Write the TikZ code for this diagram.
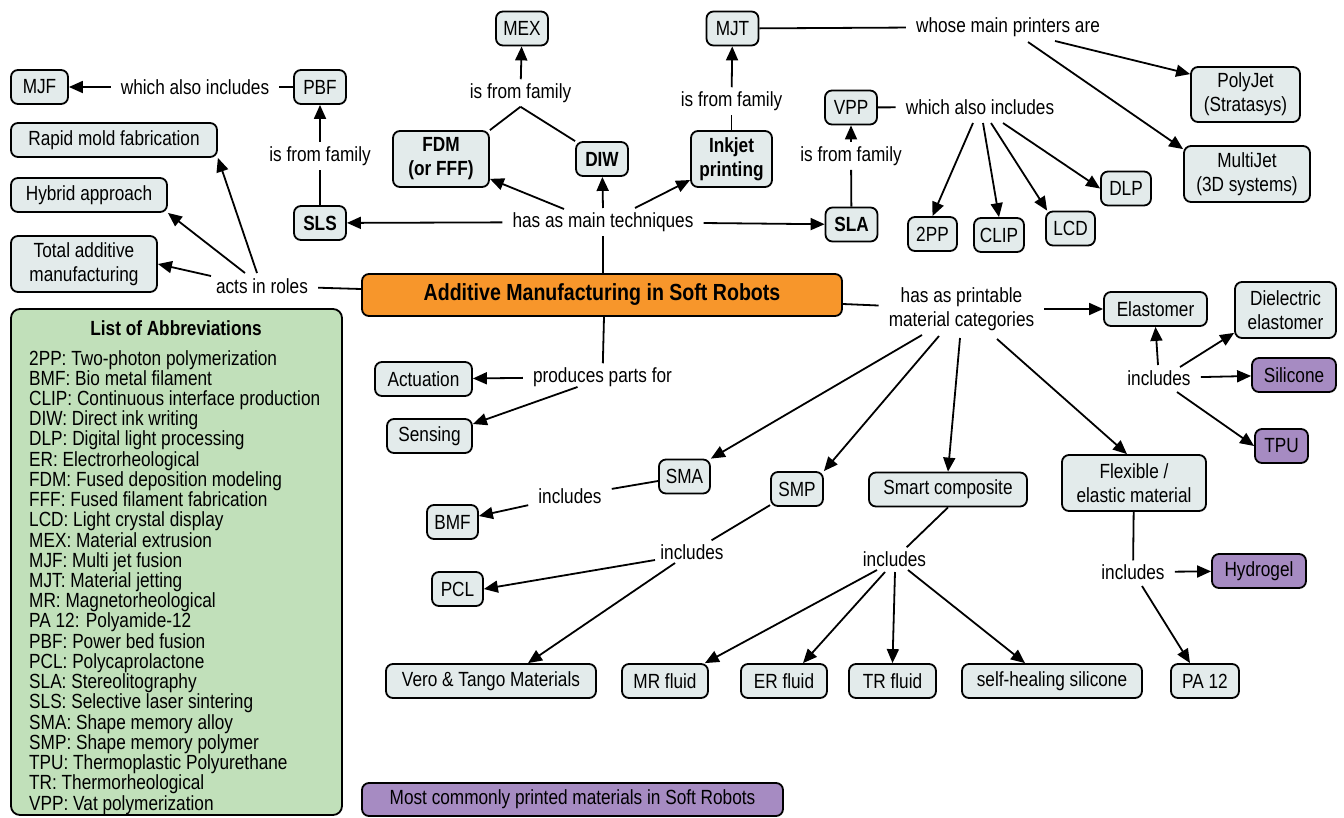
\documentclass[tikz,border=0pt]{standalone}
\usepackage{fontspec}
\setmainfont{Liberation Sans}[FakeStretch=0.84]
\usetikzlibrary{arrows.meta,calc}
\definecolor{boxfill}{HTML}{E3EBEB}
\definecolor{purp}{HTML}{A68BC2}
\definecolor{orng}{HTML}{F7962B}
\definecolor{grn}{HTML}{C1E0BA}
\begin{document}
\begin{tikzpicture}[x=1pt,y=-1pt,
  base/.style={font=\fontsize{20.5}{24}\selectfont},
  box/.style={base, draw, line width=1.8pt, fill=boxfill, rounded corners=7pt, inner sep=0pt, align=center},
  bbox/.style={box, font=\fontsize{20.5}{24}\selectfont\bfseries},
  pbox/.style={box, fill=purp},
  lab/.style={base, inner xsep=10pt, inner ysep=4pt, align=center},
  sz/.style 2 args={minimum width=#1pt, minimum height=#2pt},
  con/.style={line width=1.8pt},
  arr/.style={con, -{Triangle[length=14pt,width=12pt]}},
]
\useasboundingbox (0,0) rectangle (1344,817);

% list of abbreviations
\node[draw, line width=1.8pt, fill=grn, rounded corners=9pt, sz={331}{506}, inner sep=0pt] (listbox) at (176.5,562) {};
\node[base, font=\fontsize{20.5}{24}\selectfont\bfseries] (listtitle) at (176,328) {List of Abbreviations};
\foreach \t [count=\i] in {2PP: Two-photon polymerization, BMF: Bio metal filament, CLIP: Continuous interface production, DIW: Direct ink writing, DLP: Digital light processing, ER: Electrorheological, FDM: Fused deposition modeling, FFF: Fused filament fabrication, LCD: Light crystal display, MEX: Material extrusion, MJF: Multi jet fusion, MJT: Material jetting, MR: Magnetorheological, PA 12: Polyamide-12, PBF: Power bed fusion, PCL: Polycaprolactone, SLA: Stereolitography, SLS: Selective laser sintering, SMA: Shape memory alloy, SMP: Shape memory polymer, TPU: Thermoplastic Polyurethane, TR: Thermorheological, VPP: Vat polymerization}
  \node[base, anchor=base west, inner sep=0pt] (ab\i) at (29,{365+(\i-1)*20.23}) {\t};

\node[pbox, sz={421}{33}] (legend) at (572.5,799.5) {Most commonly printed materials in Soft Robots};

% nodes
\node[box, fill=orng, sz={480}{42}, font=\fontsize{23.3}{28}\selectfont\bfseries] (main) at (602,295) {Additive Manufacturing in Soft Robots};

\node[box, sz={57}{34}] (mjf) at (39.5,87) {MJF};
\node[box, sz={52}{34}] (pbf) at (320,87) {PBF};
\node[lab] (also1) at (195,87) {which also includes};
\node[box, sz={206}{34}] (rapid) at (114,140) {Rapid mold fabrication};
\node[box, sz={156}{34}] (hybrid) at (89,195) {Hybrid approach};
\node[box, sz={146}{56}] (total) at (84,264) {Total additive\\manufacturing};
\node[bbox, sz={52}{34}] (sls) at (320,223) {SLS};
\node[lab] (fam1) at (320,156) {is from family};
\node[lab] (roles) at (262,286) {acts in roles};
\node[bbox, sz={96}{56}] (fdm) at (441,159) {FDM\\(or FFF)};
\node[bbox, sz={52}{34}] (diw) at (602,159) {DIW};
\node[box, sz={52}{34}] (mex) at (522,28.5) {MEX};
\node[lab] (fam2) at (520.5,93) {is from family};
\node[bbox, sz={81}{56}] (inkjet) at (731.5,159) {Inkjet\\printing};
\node[box, sz={52}{34}] (mjt) at (732.5,28.5) {MJT};
\node[lab] (fam3) at (731.5,101) {is from family};
\node[lab] (printers) at (1008,27) {whose main printers are};
\node[box, sz={109}{55}] (polyjet) at (1245.5,94.5) {PolyJet\\(Stratasys)};
\node[box, sz={126}{56}] (multijet) at (1247,174) {MultiJet\\(3D systems)};
\node[lab] (tech) at (603,222) {has as main techniques};
\node[bbox, sz={52}{34}] (sla) at (851.5,224.5) {SLA};
\node[lab] (fam4) at (851,156) {is from family};
\node[box, sz={52}{34}] (vpp) at (851,107.5) {VPP};
\node[lab] (also2) at (980,107) {which also includes};
\node[box, sz={49}{34}] (tpp) at (932.5,234) {2PP};
\node[box, sz={50}{34}] (clip) at (999,235) {CLIP};
\node[box, sz={49}{34}] (lcd) at (1070.5,228.5) {LCD};
\node[box, sz={50}{34}] (dlp) at (1126,188.5) {DLP};
\node[lab] (mat) at (961.5,309) {has as printable\\material categories};
\node[box, sz={103}{34}] (elast) at (1155.5,309) {Elastomer};
\node[box, sz={101}{56}] (dielec) at (1285.5,310) {Dielectric\\elastomer};
\node[pbox, sz={84}{34}] (silicone) at (1294,375) {Silicone};
\node[pbox, sz={53}{34}] (tpu) at (1281.5,446) {TPU};
\node[lab] (incel) at (1159,378) {includes};
\node[lab] (prod) at (602.5,377) {produces parts for};
\node[box, sz={97}{34}] (actuation) at (423.5,379) {Actuation};
\node[box, sz={85}{34}] (sensing) at (429.5,436) {Sensing};
\node[box, sz={51}{34}] (sma) at (684.5,476.5) {SMA};
\node[box, sz={52}{34}] (smp) at (797,489) {SMP};
\node[box, sz={158}{34}] (smart) at (948,489.5) {Smart composite};
\node[box, sz={144}{56}] (flex) at (1134,483) {Flexible /\\elastic material};
\node[lab] (incsma) at (570,496) {includes};
\node[box, sz={51}{34}] (bmf) at (452.5,522) {BMF};
\node[lab] (incsmp) at (692,552) {includes};
\node[box, sz={51}{34}] (pcl) at (457.5,589) {PCL};
\node[box, sz={210}{34}] (vero) at (491,681) {Vero \& Tango Materials};
\node[lab] (incsc) at (894.5,559) {includes};
\node[box, sz={86}{34}] (mr) at (665,681) {MR fluid};
\node[box, sz={86}{34}] (er) at (784,681) {ER fluid};
\node[box, sz={87}{34}] (tr) at (892.5,681) {TR fluid};
\node[box, sz={180}{34}] (selfheal) at (1052,681) {self-healing silicone};
\node[lab] (incflex) at (1133,572) {includes};
\node[pbox, sz={94}{34}] (hydrogel) at (1259,571) {Hydrogel};
\node[box, sz={68}{34}] (pa) at (1205,681) {PA 12};

% connectors
\draw[arr] (also1) -- (mjf);
\draw[con] (pbf) -- (also1);
\draw[con] (sls) -- (fam1);
\draw[arr] (fam1) -- (pbf);
\draw[arr] ([shift={(-5,-13)}]roles.center) -- (rapid.south east);
\draw[arr] ([shift={(-17,-13)}]roles.center) -- (hybrid.south east);
\draw[arr] ([shift={(-51,-10)}]roles.center) -- (total.east);
\draw[con] ([shift={(0,-6)}]main.west) -- (roles);

\draw[con] (fdm.north east) -- (fam2.south);
\draw[con] (diw.north west) -- (fam2.south);
\draw[arr] (fam2) -- (mex);
\draw[con] (inkjet) -- (fam3);
\draw[arr] (fam3) -- (mjt);
\draw[con] (mjt) -- (printers);
\draw[arr] ([shift={(47,14)}]printers.center) -- ([shift={(0,8)}]polyjet.north west);
\draw[arr] ([shift={(20,15)}]printers.center) -- ([shift={(0,4)}]multijet.north west);

\draw[con] ([shift={(1,0)}]main.north) -- (tech);
\draw[arr] (tech) -- (sls);
\draw[arr] (tech) -- (sla);
\draw[arr] ([shift={(-39,-13)}]tech.center) -- (fdm);
\draw[arr] ([shift={(0,-14)}]tech.center) -- (diw);
\draw[arr] ([shift={(32,-14)}]tech.center) -- (inkjet);
\draw[con] (sla) -- (fam4);
\draw[arr] (fam4) -- (vpp);
\draw[con] (vpp) -- (also2);
\draw[arr] ([shift={(-7,16)}]also2.center) -- (tpp.north);
\draw[arr] ([shift={(3,16)}]also2.center) -- (clip.north);
\draw[arr] ([shift={(11,16)}]also2.center) -- ([shift={(2,0)}]lcd.north west);
\draw[arr] ([shift={(23,16)}]also2.center) -- (dlp.west);

\draw[con] ([shift={(0,9)}]main.east) -- (mat);
\draw[arr] (mat) -- (elast);
\draw[arr] ([shift={(-39.5,26)}]mat.center) -- (sma.north east);
\draw[arr] ([shift={(-22.5,27)}]mat.center) -- (smp.north east);
\draw[arr] ([shift={(-1.5,29)}]mat.center) -- (smart.north);
\draw[arr] ([shift={(35.5,30)}]mat.center) -- ([shift={(-7,0)}]flex.north);
\draw[arr] ([shift={(-1,-13)}]incel.center) -- (elast.south);
\draw[arr] ([shift={(21,-11)}]incel.center) -- ([shift={(0,-6)}]dielec.south west);
\draw[arr] (incel) -- (silicone);
\draw[arr] ([shift={(18,14)}]incel.center) -- (tpu.west);

\draw[con] ([shift={(2,0)}]main.south) -- (prod);
\draw[arr] (prod) -- (actuation);
\draw[arr] ([shift={(-25,10)}]prod.center) -- ([shift={(0,-12)}]sensing.east);
\draw[con] (sma) -- (incsma);
\draw[arr] (incsma) -- ([shift={(0,-6)}]bmf.east);
\draw[con] (smp) -- (incsmp);
\draw[arr] ([shift={(-37,8)}]incsmp.center) -- (pcl.east);
\draw[arr] ([shift={(-17,11)}]incsmp.center) -- ([shift={(37,0)}]vero.north);
\draw[con] (smart.south) -- (incsc);
\draw[arr] ([shift={(-17.5,11)}]incsc.center) -- ([shift={(-4,0)}]mr.north east);
\draw[arr] ([shift={(-9.5,13)}]incsc.center) -- ([shift={(19,0)}]er.north);
\draw[arr] ([shift={(0.5,13)}]incsc.center) -- (tr.north);
\draw[arr] ([shift={(13.5,11)}]incsc.center) -- ([shift={(-27,0)}]selfheal.north);
\draw[con] (flex) -- (incflex);
\draw[arr] (incflex) -- (hydrogel);
\draw[arr] ([shift={(9,14)}]incflex.center) -- ([shift={(-15,0)}]pa.north);
\end{tikzpicture}
\end{document}
